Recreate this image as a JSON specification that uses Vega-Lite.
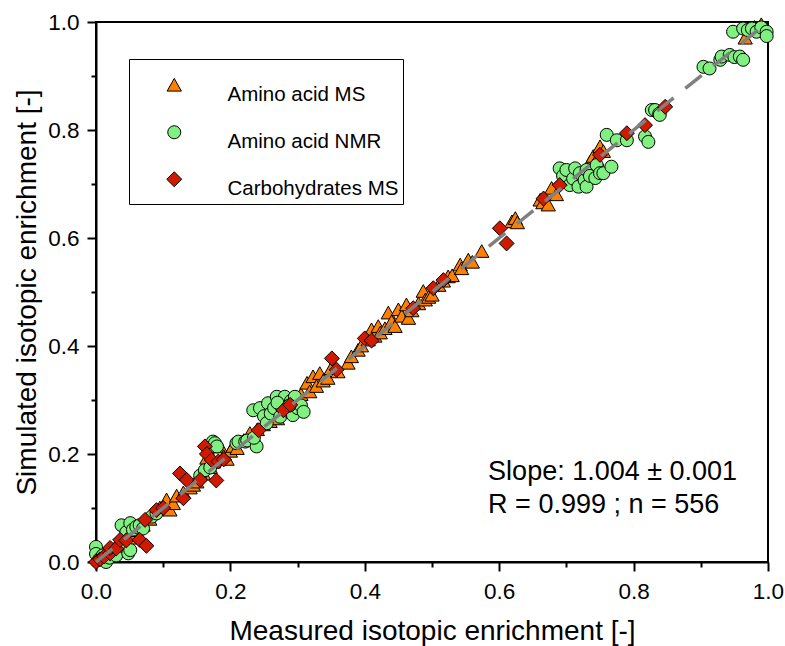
{
  "$schema": "https://vega.github.io/schema/vega-lite/v6.json",
  "width": 672,
  "height": 540,
  "autosize": {"type": "none"},
  "padding": {"left": 96, "top": 22, "right": 17, "bottom": 84},
  "background": "white",
  "config": {
    "font": "Liberation Sans",
    "view": {"stroke": "black", "strokeWidth": 2},
    "axis": {
      "grid": false,
      "domainColor": "black",
      "domainWidth": 2,
      "tickColor": "black",
      "tickWidth": 2,
      "labelColor": "black",
      "titleColor": "black",
      "labelFont": "Liberation Sans",
      "titleFont": "Liberation Sans",
      "titleFontWeight": "normal",
      "labelFontSize": 22.5,
      "titleFontSize": 28
    }
  },
  "datasets": {
    "pts": [
      {"x":0.005,"y":0.004,"t":"Amino acid MS"},{"x":0.012,"y":0.01,"t":"Amino acid MS"},{"x":0.02,"y":0.022,"t":"Amino acid MS"},{"x":0.028,"y":0.025,"t":"Amino acid MS"},{"x":0.035,"y":0.038,"t":"Amino acid MS"},{"x":0.04,"y":0.036,"t":"Amino acid MS"},{"x":0.046,"y":0.047,"t":"Amino acid MS"},{"x":0.05,"y":0.044,"t":"Amino acid MS"},{"x":0.055,"y":0.052,"t":"Amino acid MS"},{"x":0.06,"y":0.058,"t":"Amino acid MS"},{"x":0.07,"y":0.068,"t":"Amino acid MS"},{"x":0.08,"y":0.079,"t":"Amino acid MS"},{"x":0.095,"y":0.1,"t":"Amino acid MS"},{"x":0.1,"y":0.097,"t":"Amino acid MS"},{"x":0.105,"y":0.115,"t":"Amino acid MS"},{"x":0.11,"y":0.096,"t":"Amino acid MS"},{"x":0.115,"y":0.108,"t":"Amino acid MS"},{"x":0.12,"y":0.122,"t":"Amino acid MS"},{"x":0.13,"y":0.128,"t":"Amino acid MS"},{"x":0.14,"y":0.137,"t":"Amino acid MS"},{"x":0.145,"y":0.142,"t":"Amino acid MS"},{"x":0.15,"y":0.148,"t":"Amino acid MS"},{"x":0.16,"y":0.163,"t":"Amino acid MS"},{"x":0.165,"y":0.192,"t":"Amino acid MS"},{"x":0.17,"y":0.175,"t":"Amino acid MS"},{"x":0.175,"y":0.185,"t":"Amino acid MS"},{"x":0.185,"y":0.213,"t":"Amino acid MS"},{"x":0.19,"y":0.195,"t":"Amino acid MS"},{"x":0.195,"y":0.19,"t":"Amino acid MS"},{"x":0.2,"y":0.205,"t":"Amino acid MS"},{"x":0.204,"y":0.214,"t":"Amino acid MS"},{"x":0.21,"y":0.21,"t":"Amino acid MS"},{"x":0.22,"y":0.225,"t":"Amino acid MS"},{"x":0.229,"y":0.238,"t":"Amino acid MS"},{"x":0.235,"y":0.232,"t":"Amino acid MS"},{"x":0.24,"y":0.245,"t":"Amino acid MS"},{"x":0.249,"y":0.254,"t":"Amino acid MS"},{"x":0.259,"y":0.26,"t":"Amino acid MS"},{"x":0.265,"y":0.27,"t":"Amino acid MS"},{"x":0.27,"y":0.265,"t":"Amino acid MS"},{"x":0.28,"y":0.283,"t":"Amino acid MS"},{"x":0.29,"y":0.292,"t":"Amino acid MS"},{"x":0.3,"y":0.3,"t":"Amino acid MS"},{"x":0.305,"y":0.31,"t":"Amino acid MS"},{"x":0.314,"y":0.331,"t":"Amino acid MS"},{"x":0.318,"y":0.315,"t":"Amino acid MS"},{"x":0.323,"y":0.343,"t":"Amino acid MS"},{"x":0.328,"y":0.325,"t":"Amino acid MS"},{"x":0.333,"y":0.349,"t":"Amino acid MS"},{"x":0.338,"y":0.335,"t":"Amino acid MS"},{"x":0.345,"y":0.34,"t":"Amino acid MS"},{"x":0.35,"y":0.358,"t":"Amino acid MS"},{"x":0.36,"y":0.352,"t":"Amino acid MS"},{"x":0.375,"y":0.368,"t":"Amino acid MS"},{"x":0.38,"y":0.38,"t":"Amino acid MS"},{"x":0.39,"y":0.392,"t":"Amino acid MS"},{"x":0.395,"y":0.4,"t":"Amino acid MS"},{"x":0.405,"y":0.411,"t":"Amino acid MS"},{"x":0.41,"y":0.43,"t":"Amino acid MS"},{"x":0.415,"y":0.418,"t":"Amino acid MS"},{"x":0.42,"y":0.436,"t":"Amino acid MS"},{"x":0.423,"y":0.424,"t":"Amino acid MS"},{"x":0.43,"y":0.432,"t":"Amino acid MS"},{"x":0.435,"y":0.461,"t":"Amino acid MS"},{"x":0.44,"y":0.445,"t":"Amino acid MS"},{"x":0.445,"y":0.436,"t":"Amino acid MS"},{"x":0.45,"y":0.467,"t":"Amino acid MS"},{"x":0.455,"y":0.455,"t":"Amino acid MS"},{"x":0.462,"y":0.476,"t":"Amino acid MS"},{"x":0.465,"y":0.451,"t":"Amino acid MS"},{"x":0.47,"y":0.465,"t":"Amino acid MS"},{"x":0.48,"y":0.478,"t":"Amino acid MS"},{"x":0.487,"y":0.501,"t":"Amino acid MS"},{"x":0.49,"y":0.485,"t":"Amino acid MS"},{"x":0.495,"y":0.49,"t":"Amino acid MS"},{"x":0.5,"y":0.494,"t":"Amino acid MS"},{"x":0.51,"y":0.512,"t":"Amino acid MS"},{"x":0.517,"y":0.52,"t":"Amino acid MS"},{"x":0.524,"y":0.528,"t":"Amino acid MS"},{"x":0.53,"y":0.53,"t":"Amino acid MS"},{"x":0.542,"y":0.55,"t":"Amino acid MS"},{"x":0.544,"y":0.543,"t":"Amino acid MS"},{"x":0.554,"y":0.559,"t":"Amino acid MS"},{"x":0.56,"y":0.555,"t":"Amino acid MS"},{"x":0.574,"y":0.575,"t":"Amino acid MS"},{"x":0.619,"y":0.63,"t":"Amino acid MS"},{"x":0.624,"y":0.636,"t":"Amino acid MS"},{"x":0.627,"y":0.628,"t":"Amino acid MS"},{"x":0.661,"y":0.67,"t":"Amino acid MS"},{"x":0.665,"y":0.665,"t":"Amino acid MS"},{"x":0.673,"y":0.661,"t":"Amino acid MS"},{"x":0.678,"y":0.692,"t":"Amino acid MS"},{"x":0.685,"y":0.68,"t":"Amino acid MS"},{"x":0.735,"y":0.74,"t":"Amino acid MS"},{"x":0.74,"y":0.751,"t":"Amino acid MS"},{"x":0.745,"y":0.745,"t":"Amino acid MS"},{"x":0.75,"y":0.769,"t":"Amino acid MS"},{"x":0.755,"y":0.76,"t":"Amino acid MS"},{"x":0.966,"y":0.97,"t":"Amino acid MS"},{"x":0.98,"y":0.99,"t":"Amino acid MS"},{"x":0.99,"y":0.995,"t":"Amino acid MS"},
      {"x":0.0,"y":0.028,"t":"Amino acid NMR"},{"x":0.0,"y":0.015,"t":"Amino acid NMR"},{"x":0.005,"y":0.005,"t":"Amino acid NMR"},{"x":0.01,"y":0.012,"t":"Amino acid NMR"},{"x":0.015,"y":0.0,"t":"Amino acid NMR"},{"x":0.02,"y":0.008,"t":"Amino acid NMR"},{"x":0.025,"y":0.018,"t":"Amino acid NMR"},{"x":0.03,"y":0.012,"t":"Amino acid NMR"},{"x":0.035,"y":0.03,"t":"Amino acid NMR"},{"x":0.048,"y":0.016,"t":"Amino acid NMR"},{"x":0.051,"y":0.022,"t":"Amino acid NMR"},{"x":0.038,"y":0.068,"t":"Amino acid NMR"},{"x":0.045,"y":0.055,"t":"Amino acid NMR"},{"x":0.051,"y":0.072,"t":"Amino acid NMR"},{"x":0.055,"y":0.06,"t":"Amino acid NMR"},{"x":0.06,"y":0.065,"t":"Amino acid NMR"},{"x":0.065,"y":0.068,"t":"Amino acid NMR"},{"x":0.07,"y":0.062,"t":"Amino acid NMR"},{"x":0.083,"y":0.084,"t":"Amino acid NMR"},{"x":0.09,"y":0.09,"t":"Amino acid NMR"},
      {"x":0.155,"y":0.16,"t":"Amino acid NMR"},{"x":0.162,"y":0.17,"t":"Amino acid NMR"},{"x":0.17,"y":0.175,"t":"Amino acid NMR"},{"x":0.174,"y":0.223,"t":"Amino acid NMR"},{"x":0.177,"y":0.22,"t":"Amino acid NMR"},{"x":0.18,"y":0.214,"t":"Amino acid NMR"},{"x":0.209,"y":0.22,"t":"Amino acid NMR"},{"x":0.212,"y":0.223,"t":"Amino acid NMR"},{"x":0.222,"y":0.223,"t":"Amino acid NMR"},{"x":0.225,"y":0.225,"t":"Amino acid NMR"},{"x":0.239,"y":0.214,"t":"Amino acid NMR"},{"x":0.235,"y":0.23,"t":"Amino acid NMR"},
      {"x":0.234,"y":0.281,"t":"Amino acid NMR"},{"x":0.244,"y":0.285,"t":"Amino acid NMR"},{"x":0.25,"y":0.27,"t":"Amino acid NMR"},{"x":0.254,"y":0.257,"t":"Amino acid NMR"},{"x":0.256,"y":0.294,"t":"Amino acid NMR"},{"x":0.26,"y":0.275,"t":"Amino acid NMR"},{"x":0.265,"y":0.285,"t":"Amino acid NMR"},{"x":0.269,"y":0.306,"t":"Amino acid NMR"},{"x":0.274,"y":0.269,"t":"Amino acid NMR"},{"x":0.275,"y":0.29,"t":"Amino acid NMR"},{"x":0.281,"y":0.306,"t":"Amino acid NMR"},{"x":0.285,"y":0.28,"t":"Amino acid NMR"},{"x":0.29,"y":0.298,"t":"Amino acid NMR"},{"x":0.293,"y":0.272,"t":"Amino acid NMR"},{"x":0.296,"y":0.306,"t":"Amino acid NMR"},{"x":0.3,"y":0.285,"t":"Amino acid NMR"},{"x":0.305,"y":0.29,"t":"Amino acid NMR"},{"x":0.309,"y":0.278,"t":"Amino acid NMR"},{"x":0.27,"y":0.295,"t":"Amino acid NMR"},{"x":0.288,"y":0.29,"t":"Amino acid NMR"},
      {"x":0.69,"y":0.729,"t":"Amino acid NMR"},{"x":0.695,"y":0.715,"t":"Amino acid NMR"},{"x":0.7,"y":0.726,"t":"Amino acid NMR"},{"x":0.705,"y":0.698,"t":"Amino acid NMR"},{"x":0.71,"y":0.71,"t":"Amino acid NMR"},{"x":0.713,"y":0.729,"t":"Amino acid NMR"},{"x":0.718,"y":0.695,"t":"Amino acid NMR"},{"x":0.72,"y":0.72,"t":"Amino acid NMR"},{"x":0.727,"y":0.707,"t":"Amino acid NMR"},{"x":0.73,"y":0.726,"t":"Amino acid NMR"},{"x":0.73,"y":0.695,"t":"Amino acid NMR"},{"x":0.735,"y":0.715,"t":"Amino acid NMR"},{"x":0.743,"y":0.711,"t":"Amino acid NMR"},{"x":0.745,"y":0.735,"t":"Amino acid NMR"},{"x":0.75,"y":0.72,"t":"Amino acid NMR"},{"x":0.755,"y":0.72,"t":"Amino acid NMR"},{"x":0.767,"y":0.732,"t":"Amino acid NMR"},{"x":0.76,"y":0.791,"t":"Amino acid NMR"},{"x":0.775,"y":0.781,"t":"Amino acid NMR"},{"x":0.79,"y":0.781,"t":"Amino acid NMR"},{"x":0.817,"y":0.788,"t":"Amino acid NMR"},{"x":0.822,"y":0.778,"t":"Amino acid NMR"},{"x":0.827,"y":0.837,"t":"Amino acid NMR"},{"x":0.832,"y":0.837,"t":"Amino acid NMR"},{"x":0.838,"y":0.83,"t":"Amino acid NMR"},{"x":0.839,"y":0.828,"t":"Amino acid NMR"},
      {"x":0.904,"y":0.917,"t":"Amino acid NMR"},{"x":0.913,"y":0.914,"t":"Amino acid NMR"},{"x":0.929,"y":0.93,"t":"Amino acid NMR"},{"x":0.931,"y":0.936,"t":"Amino acid NMR"},{"x":0.943,"y":0.939,"t":"Amino acid NMR"},{"x":0.95,"y":0.935,"t":"Amino acid NMR"},{"x":0.958,"y":0.936,"t":"Amino acid NMR"},{"x":0.963,"y":0.93,"t":"Amino acid NMR"},{"x":0.948,"y":0.982,"t":"Amino acid NMR"},{"x":0.963,"y":0.988,"t":"Amino acid NMR"},{"x":0.97,"y":0.985,"t":"Amino acid NMR"},{"x":0.976,"y":0.988,"t":"Amino acid NMR"},{"x":0.983,"y":0.982,"t":"Amino acid NMR"},{"x":0.99,"y":0.99,"t":"Amino acid NMR"},{"x":0.998,"y":0.982,"t":"Amino acid NMR"},{"x":0.998,"y":0.974,"t":"Amino acid NMR"},
      {"x":0.0,"y":0.0,"t":"Carbohydrates MS"},{"x":0.006,"y":0.005,"t":"Carbohydrates MS"},{"x":0.012,"y":0.01,"t":"Carbohydrates MS"},{"x":0.021,"y":0.016,"t":"Carbohydrates MS"},{"x":0.021,"y":0.026,"t":"Carbohydrates MS"},{"x":0.03,"y":0.025,"t":"Carbohydrates MS"},{"x":0.036,"y":0.041,"t":"Carbohydrates MS"},{"x":0.045,"y":0.04,"t":"Carbohydrates MS"},{"x":0.065,"y":0.041,"t":"Carbohydrates MS"},{"x":0.075,"y":0.03,"t":"Carbohydrates MS"},{"x":0.073,"y":0.078,"t":"Carbohydrates MS"},{"x":0.09,"y":0.096,"t":"Carbohydrates MS"},{"x":0.1,"y":0.1,"t":"Carbohydrates MS"},{"x":0.125,"y":0.164,"t":"Carbohydrates MS"},{"x":0.13,"y":0.118,"t":"Carbohydrates MS"},{"x":0.135,"y":0.152,"t":"Carbohydrates MS"},{"x":0.155,"y":0.152,"t":"Carbohydrates MS"},{"x":0.162,"y":0.214,"t":"Carbohydrates MS"},{"x":0.165,"y":0.2,"t":"Carbohydrates MS"},{"x":0.172,"y":0.189,"t":"Carbohydrates MS"},{"x":0.179,"y":0.151,"t":"Carbohydrates MS"},{"x":0.182,"y":0.186,"t":"Carbohydrates MS"},{"x":0.19,"y":0.19,"t":"Carbohydrates MS"},{"x":0.242,"y":0.244,"t":"Carbohydrates MS"},{"x":0.279,"y":0.281,"t":"Carbohydrates MS"},{"x":0.289,"y":0.291,"t":"Carbohydrates MS"},{"x":0.351,"y":0.377,"t":"Carbohydrates MS"},{"x":0.358,"y":0.356,"t":"Carbohydrates MS"},{"x":0.4,"y":0.414,"t":"Carbohydrates MS"},{"x":0.41,"y":0.41,"t":"Carbohydrates MS"},{"x":0.472,"y":0.47,"t":"Carbohydrates MS"},{"x":0.502,"y":0.507,"t":"Carbohydrates MS"},{"x":0.517,"y":0.522,"t":"Carbohydrates MS"},{"x":0.601,"y":0.618,"t":"Carbohydrates MS"},{"x":0.611,"y":0.59,"t":"Carbohydrates MS"},{"x":0.666,"y":0.673,"t":"Carbohydrates MS"},{"x":0.69,"y":0.698,"t":"Carbohydrates MS"},{"x":0.75,"y":0.754,"t":"Carbohydrates MS"},{"x":0.79,"y":0.794,"t":"Carbohydrates MS"},{"x":0.817,"y":0.809,"t":"Carbohydrates MS"},{"x":0.847,"y":0.843,"t":"Carbohydrates MS"}
    ],
    "fit": [{"x": 0, "y": 0}, {"x": 1, "y": 1}],
    "notes": [
      {"x": 0.5835, "y": 0.1526, "label": "Slope: 1.004 ± 0.001"},
      {"x": 0.5835, "y": 0.0909, "label": "R = 0.999 ; n = 556"}
    ]
  },
  "layer": [
    {
      "data": {"name": "pts"},
      "mark": {"type": "point", "filled": true, "opacity": 1, "stroke": "black", "strokeWidth": 1, "size": 169},
      "encoding": {
        "x": {"field": "x", "type": "quantitative", "scale": {"domain": [0, 1], "nice": false, "zero": false},
          "axis": {"orient": "bottom", "values": [0, 0.2, 0.4, 0.6, 0.8, 1.0], "format": ".1f", "tickSize": 9, "labelPadding": 9, "title": "Measured isotopic enrichment [-]", "titlePadding": 15, "labelFlush": false, "labelOverlap": false}},
        "y": {"field": "y", "type": "quantitative", "scale": {"domain": [0, 1], "nice": false, "zero": false},
          "axis": {"orient": "left", "values": [0, 0.2, 0.4, 0.6, 0.8, 1.0], "format": ".1f", "tickSize": 9, "labelPadding": 8, "title": "Simulated isotopic enrichment [-]", "titlePadding": 6, "labelFlush": false, "labelOverlap": false}},
        "shape": {"field": "t", "type": "nominal", "scale": {"domain": ["Amino acid MS", "Amino acid NMR", "Carbohydrates MS"], "range": ["M0,-1.05L1.1,0.9L-1.1,0.9Z", "circle", "M-1.15,0L0,-1.15L1.15,0L0,1.15Z"]},
          "legend": {"title": " ", "orient": "none", "legendX": 33, "legendY": 37, "padding": 4, "strokeColor": "black", "fillColor": "white", "titleFontSize": 6, "titlePadding": 6, "symbolOffset": 31, "labelOffset": 43, "labelFontSize": 20.5, "labelLimit": 400, "labelFont": "Liberation Sans", "labelColor": "black", "labelBaseline": "top", "rowPadding": 16, "symbolSize": 169, "symbolStrokeColor": "black", "symbolStrokeWidth": 1, "symbolOpacity": 1}},
        "color": {"field": "t", "type": "nominal", "scale": {"domain": ["Amino acid MS", "Amino acid NMR", "Carbohydrates MS"], "range": ["#FF8000", "#80F080", "#D01A00"]}}
      }
    },
    {
      "data": {"name": "fit"},
      "mark": {"type": "line", "color": "#808080", "strokeWidth": 3.5, "strokeDash": [21, 15]},
      "encoding": {
        "x": {"field": "x", "type": "quantitative", "scale": {"domain": [0, 1], "nice": false, "zero": false},
          "axis": {"orient": "bottom", "values": [0.1, 0.3, 0.5, 0.7, 0.9], "labels": false, "domain": false, "tickSize": 5, "title": null}},
        "y": {"field": "y", "type": "quantitative", "scale": {"domain": [0, 1], "nice": false, "zero": false},
          "axis": {"orient": "left", "values": [0.1, 0.3, 0.5, 0.7, 0.9], "labels": false, "domain": false, "tickSize": 5, "title": null}}
      }
    },
    {
      "data": {"name": "notes"},
      "mark": {"type": "text", "align": "left", "baseline": "alphabetic", "fontSize": 27, "font": "Liberation Sans", "color": "black"},
      "encoding": {
        "x": {"field": "x", "type": "quantitative", "scale": {"domain": [0, 1], "nice": false, "zero": false}, "axis": null},
        "y": {"field": "y", "type": "quantitative", "scale": {"domain": [0, 1], "nice": false, "zero": false}, "axis": null},
        "text": {"field": "label"}
      }
    }
  ],
  "resolve": {"axis": {"x": "independent", "y": "independent"}}
}
